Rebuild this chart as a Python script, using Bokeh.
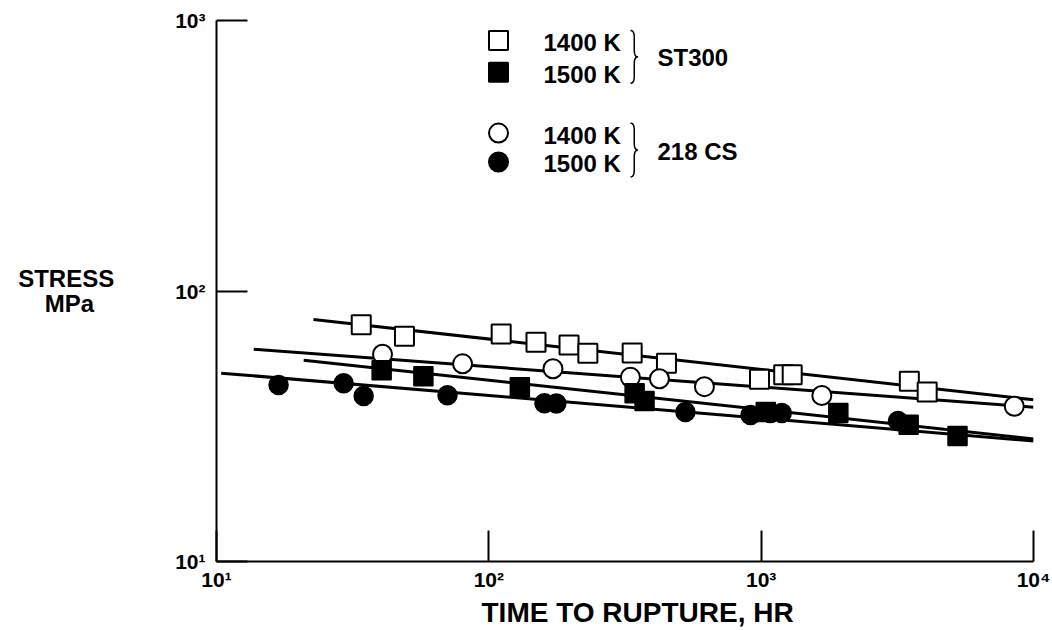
import numpy as np
from bokeh.plotting import figure
from bokeh.models import Range1d, FixedTicker, Label, LinearScale, Title
from bokeh.embed import file_html
from bokeh.resources import INLINE

# ---------------- data ----------------
# ST300 alloy, 1400 K (open squares)
st300_1400_t = [34, 49, 111, 149, 197, 231, 336, 449, 986, 1210, 1300, 3500, 4070]
st300_1400_s = [75.0, 68.0, 69.3, 64.6, 63.1, 58.9, 59.0, 54.1, 47.2, 49.0, 49.0, 46.4, 42.3]
# ST300 alloy, 1500 K (filled squares)
st300_1500_t = [40.4, 57.5, 130, 343, 373, 1040, 1920, 3480, 5260]
st300_1500_s = [50.9, 48.4, 44.1, 41.9, 39.2, 35.7, 35.4, 32.0, 29.1]
# 218 CS, 1400 K (open circles)
cs218_1400_t = [40.7, 80.1, 172, 331, 423, 619, 1670, 8500]
cs218_1400_s = [58.4, 53.8, 51.6, 48.0, 47.4, 44.3, 41.1, 37.5]
# 218 CS, 1500 K (filled circles)
cs218_1500_t = [16.9, 29.3, 34.7, 70.5, 160, 177, 527, 914, 1080, 1190, 3180]
cs218_1500_s = [44.9, 45.6, 40.9, 41.2, 38.5, 38.4, 35.7, 34.8, 35.4, 35.4, 33.1]

# fitted trend lines (end points)
st300_1400_fit_t = [22.7, 10000]
st300_1400_fit_s = [78.5, 39.6]
cs218_1400_fit_t = [13.7, 10000]
cs218_1400_fit_s = [60.9, 37.2]
st300_1500_fit_t = [20.9, 10000]
st300_1500_fit_s = [55.5, 28.4]
cs218_1500_fit_t = [10.4, 10000]
cs218_1500_fit_s = [49.7, 27.9]

x_ticks = [10, 100, 1000, 10000]
x_tick_labels = ["10\u00b9", "10\u00b2", "10\u00b3", "10\u2074"]
y_ticks = [10, 100, 1000]
y_tick_labels = ["10\u00b9", "10\u00b2", "10\u00b3"]

legend_temps = ["1400 K", "1500 K", "1400 K", "1500 K"]
legend_alloys = ["ST300", "218 CS"]
x_title = "TIME TO RUPTURE, HR"
y_title = "STRESS\nMPa\u00a0\u00a0\u00a0"

FONT = "Liberation Sans"

# ---------------- figure ----------------
W, H = 1050, 628
X0, X1, Y0, Y1 = 216, 1033, 20, 563     # frame edges in page pixels
p = figure(width=W, height=H, x_axis_type="log", y_axis_type="log",
           x_range=Range1d(10, 10000), y_range=Range1d(10, 1000),
           output_backend="svg", toolbar_location=None,
           min_border_left=X0, min_border_right=W - X1,
           min_border_top=Y0, min_border_bottom=H - Y1)
p.outline_line_color = None
p.xgrid.visible = False
p.ygrid.visible = False
p.background_fill_color = "white"
p.border_fill_color = "white"

# linear pixel-space helper ranges for the legend decorations
p.extra_x_ranges = {"px": Range1d(X0, X1)}
p.extra_y_ranges = {"py": Range1d(Y1, Y0)}
p.extra_x_scales = {"px": LinearScale()}
p.extra_y_scales = {"py": LinearScale()}

for ax, ticks, labels in ((p.xaxis[0], x_ticks, x_tick_labels), (p.yaxis[0], y_ticks, y_tick_labels)):
    ax.ticker = FixedTicker(ticks=ticks, minor_ticks=[])
    ax.major_label_overrides = {t: l for t, l in zip(ticks, labels)}
    ax.major_tick_in = 31
    ax.major_tick_out = 0
    ax.minor_tick_in = 0
    ax.minor_tick_out = 0
    ax.axis_line_width = 2
    ax.axis_line_color = "black"
    ax.major_tick_line_width = 2
    ax.major_tick_line_color = "black"
    ax.major_label_text_font = FONT
    ax.major_label_text_font_style = "bold"
    ax.major_label_text_font_size = "21px"
    ax.major_label_text_color = "black"
p.xaxis.major_label_standoff = 6
p.yaxis.major_label_standoff = 11

# y-axis title, horizontal, two lines
p.yaxis.axis_label = y_title
p.yaxis.axis_label_orientation = "horizontal"
p.yaxis.axis_label_text_font = FONT
p.yaxis.axis_label_text_font_style = "bold"
p.yaxis.axis_label_text_font_size = "24px"
p.yaxis.axis_label_text_line_height = 0.95
p.yaxis.axis_label_text_color = "black"
p.yaxis.axis_label_standoff = 58

# x-axis title as a Title below the axis
p.add_layout(Title(text=x_title, align="left", offset=265, standoff=2,
                   text_font=FONT, text_font_style="bold", text_font_size="28px",
                   text_color="black"), "below")

BOLD = dict(text_font=FONT, text_font_style="bold", text_color="black", text_baseline="middle")

# ---------------- fit lines ----------------
for t, s in ((st300_1400_fit_t, st300_1400_fit_s), (cs218_1400_fit_t, cs218_1400_fit_s),
             (st300_1500_fit_t, st300_1500_fit_s), (cs218_1500_fit_t, cs218_1500_fit_s)):
    p.line(t, s, line_color="black", line_width=3)

# ---------------- markers ----------------
MS = 19
p.scatter(st300_1400_t, st300_1400_s, marker="square", size=MS,
          fill_color="white", line_color="black", line_width=2)
p.scatter(cs218_1400_t, cs218_1400_s, marker="circle", size=MS,
          fill_color="white", line_color="black", line_width=2)
p.scatter(st300_1500_t, st300_1500_s, marker="square", size=MS,
          fill_color="black", line_color="black", line_width=1.5)
p.scatter(cs218_1500_t, cs218_1500_s, marker="circle", size=MS,
          fill_color="black", line_color="black", line_width=1.5)

# ---------------- legend (page-pixel coordinates) ----------------
leg_marker_x = 498
leg_rows_y = [40, 72, 133, 162]
leg_markers = [("square", "white"), ("square", "black"), ("circle", "white"), ("circle", "black")]
for (mk, fc), yy, txt in zip(leg_markers, leg_rows_y, legend_temps):
    p.scatter([leg_marker_x], [yy], marker=mk, size=MS, fill_color=fc,
              line_color="black", line_width=2, x_range_name="px", y_range_name="py")
    p.add_layout(Label(x=543, y=yy + 2, text=txt, text_font_size="24px", text_align="left",
                       x_range_name="px", y_range_name="py", **BOLD))


def brace_path(x0, ytop, ybot, w=7.5, r=7):
    xm = x0 + w * 0.5
    ymid = (ytop + ybot) / 2
    tt = np.linspace(0, 1, 12)

    def quad(a, c, b):
        return [((1 - u) ** 2 * a[0] + 2 * (1 - u) * u * c[0] + u ** 2 * b[0],
                 (1 - u) ** 2 * a[1] + 2 * (1 - u) * u * c[1] + u ** 2 * b[1]) for u in tt]
    pts = []
    pts += quad((x0, ytop), (xm, ytop), (xm, ytop + r))
    pts += quad((xm, ymid - r), (xm, ymid), (x0 + w, ymid))
    pts += quad((x0 + w, ymid), (xm, ymid), (xm, ymid + r))
    pts += quad((xm, ybot - r), (xm, ybot), (x0, ybot))
    xs, ys = zip(*pts)
    return list(xs), list(ys)


for (ytop, ybot), name in zip(((30, 83), (123, 177)), legend_alloys):
    bx, by = brace_path(630, ytop, ybot)
    p.line(bx, by, line_color="black", line_width=1.5, x_range_name="px", y_range_name="py")
    p.add_layout(Label(x=657, y=(ytop + ybot) / 2 + 1, text=name, text_font_size="24px",
                       text_align="left", x_range_name="px", y_range_name="py", **BOLD))

open("out.html", "w").write(file_html(p, INLINE))
